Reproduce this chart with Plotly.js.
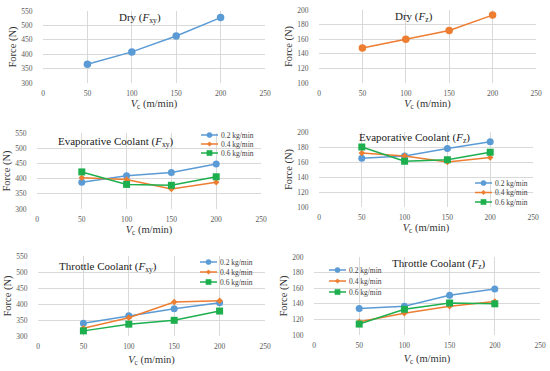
<!DOCTYPE html>
<html>
<head>
<meta charset="utf-8">
<script src="https://cdn.plot.ly/plotly-3.0.1.min.js"></script>
<style>html,body{margin:0;padding:0;background:#fff;}#chart{width:550px;height:371px;}</style>
</head>
<body>
<div id="chart"></div>
<script>
// ---- Data ----
const vc = [50, 100, 150, 200];
const flowLabels = ['0.2 kg/min', '0.4 kg/min', '0.6 kg/min'];

const dryFxy = [365, 408, 463, 527];
const dryFz = [148, 160, 172, 193];

const evapFxy02 = [388, 409, 420, 448];
const evapFxy04 = [403, 397, 366, 388];
const evapFxy06 = [422, 381, 378, 406];

const evapFz02 = [165, 168, 178, 187];
const evapFz04 = [172, 168, 160, 166];
const evapFz06 = [180, 161, 163, 173];

const thrFxy02 = [340, 363, 385, 404];
const thrFxy04 = [324, 357, 406, 410];
const thrFxy06 = [316, 337, 349, 378];

const thrFz02 = [134, 137, 151, 159];
const thrFz04 = [117, 128, 137, 143];
const thrFz06 = [114, 133, 141, 140];

const panelTitles = ['Dry (<i>F</i><sub>xy</sub>)', 'Dry (<i>F</i><sub>z</sub>)',
  'Evaporative Coolant (<i>F</i><sub>xy</sub>)', 'Evaporative Coolant (<i>F</i><sub>z</sub>)',
  'Throttle Coolant (<i>F</i><sub>xy</sub>)', 'Throttle Coolant (<i>F</i><sub>z</sub>)'];
const xTitle = '<i>V</i><sub>c</sub> (m/min)';
const yTitle = 'Force (N)';
const xTicks = [0, 50, 100, 150, 200, 250];
const fxyTicks = [300, 350, 400, 450, 500, 550];
const fzTicks = [100, 120, 140, 160, 180, 200];

// ---- Styling ----
const W = 550, H = 371;
const px = v => v / W;
const py = v => 1 - v / H;
const BLUE = '#5B9BD5', ORANGE = '#ED7D31', GREEN = '#1DAF4E';
const FONT = 'Liberation Serif, Times New Roman, serif';
const seriesStyle = [
  {color: BLUE, symbol: 'circle', size: 7},
  {color: ORANGE, symbol: 'diamond', size: 5},
  {color: GREEN, symbol: 'square', size: 7}
];

const panels = [
  {x: [43, 265], y: [11, 83], ticks: fxyTicks, xstand: 1},
  {x: [319, 536], y: [10, 83], ticks: fzTicks, xstand: 1},
  {x: [37, 261], y: [133, 209], ticks: fxyTicks, xstand: 2},
  {x: [319, 533], y: [132, 207], ticks: fzTicks, xstand: 2},
  {x: [38, 265], y: [256, 336], ticks: fxyTicks, xstand: 5},
  {x: [314, 540], y: [257, 335], ticks: fzTicks, xstand: 5}
];

const panelSeries = [
  [dryFxy], [dryFz],
  [evapFxy02, evapFxy04, evapFxy06],
  [evapFz02, evapFz04, evapFz06],
  [thrFxy02, thrFxy04, thrFxy06],
  [thrFz02, thrFz04, thrFz06]
];

const titlePos = [[140, 18], [414, 17], [116, 142], [414, 138], [108, 267], [439, 264]];
const legendPos = [null, null,
  {x: 201, rows: [135, 144, 153]},
  {x: 475, rows: [183, 192.5, 202]},
  {x: 200, rows: [262, 272, 282]},
  {x: 329, rows: [270, 281, 292]}];

const traces = [];
const layout = {
  width: W, height: H,
  margin: {l: 0, r: 0, t: 0, b: 0},
  paper_bgcolor: '#fff', plot_bgcolor: '#fff',
  showlegend: false,
  font: {family: FONT, color: '#222'},
  annotations: [], shapes: []
};

panels.forEach((p, i) => {
  const n = i + 1;
  const xa = n === 1 ? 'x' : 'x' + n;
  const ya = n === 1 ? 'y' : 'y' + n;
  const xkey = n === 1 ? 'xaxis' : 'xaxis' + n;
  const ykey = n === 1 ? 'yaxis' : 'yaxis' + n;
  layout[xkey] = {
    domain: [px(p.x[0]), px(p.x[1])], anchor: ya,
    range: [0, 250], tickvals: xTicks, ticktext: xTicks.map(String),
    showgrid: true, gridcolor: '#d9d9d9', gridwidth: 1, zeroline: false, showline: false,
    ticks: 'outside', ticklen: 3, tickcolor: 'rgba(0,0,0,0)',
    tickfont: {family: FONT, size: 7.5, color: '#595959'},
    title: {text: xTitle, font: {family: FONT, size: 10.5, color: '#333'}, standoff: p.xstand},
    automargin: false, fixedrange: true
  };
  const yr = [p.ticks[0], p.ticks[p.ticks.length - 1]];
  layout[ykey] = {
    domain: [py(p.y[1]), py(p.y[0])], anchor: xa,
    range: yr, tickvals: p.ticks, ticktext: p.ticks.map(String),
    showgrid: true, gridcolor: '#d9d9d9', gridwidth: 1, zeroline: false, showline: false,
    ticks: 'outside', ticklen: 8, tickcolor: 'rgba(0,0,0,0)',
    tickfont: {family: FONT, size: 7.5, color: '#595959'},
    title: {text: yTitle, font: {family: FONT, size: 10.5, color: '#333'}, standoff: 2},
    automargin: false, fixedrange: true
  };
  const series = panelSeries[i];
  series.forEach((vals, k) => {
    let st = seriesStyle[k];
    if (series.length === 1) st = {color: i === 0 ? BLUE : ORANGE, symbol: 'circle', size: 7.5};
    traces.push({
      x: vc, y: vals, xaxis: xa, yaxis: ya, type: 'scatter', mode: 'lines+markers',
      name: series.length > 1 ? flowLabels[k] : 'Dry',
      line: {color: st.color, width: 1.5},
      marker: {color: st.color, symbol: st.symbol, size: st.size},
      cliponaxis: false
    });
  });
  // panel title
  layout.annotations.push({
    text: panelTitles[i], xref: 'paper', yref: 'paper',
    x: px(titlePos[i][0]), y: py(titlePos[i][1]), xanchor: 'center', yanchor: 'middle',
    showarrow: false, font: {family: FONT, size: 11, color: '#222'}
  });
  // manual compact legend
  const lg = legendPos[i];
  if (lg) {
    flowLabels.forEach((lab, k) => {
      const st = seriesStyle[k];
      const yy = py(lg.rows[k]);
      const xl0 = px(lg.x), xl1 = px(lg.x + 17), xc = px(lg.x + 8.5);
      layout.shapes.push({type: 'line', xref: 'paper', yref: 'paper', x0: xl0, x1: xl1, y0: yy, y1: yy,
        line: {color: st.color, width: 1.5}});
      const r = k === 1 ? 2.2 : 2.6;
      let shp;
      if (k === 0) {
        shp = {type: 'circle', x0: -r, x1: r, y0: -r, y1: r};
      } else if (k === 1) {
        shp = {type: 'path', path: `M0,${-r} L${r},0 L0,${r} L${-r},0 Z`};
      } else {
        shp = {type: 'rect', x0: -r, x1: r, y0: -r, y1: r};
      }
      Object.assign(shp, {xref: 'paper', yref: 'paper', xsizemode: 'pixel', ysizemode: 'pixel',
        xanchor: xc, yanchor: yy, fillcolor: st.color, line: {color: st.color, width: 0.5}});
      layout.shapes.push(shp);
      layout.annotations.push({
        text: lab, xref: 'paper', yref: 'paper', x: px(lg.x + 18), y: yy,
        xanchor: 'left', yanchor: 'middle', showarrow: false,
        font: {family: FONT, size: 7.5, color: '#404040'}
      });
    });
  }
});

Plotly.newPlot('chart', traces, layout, {displayModeBar: false, staticPlot: true});
</script>
</body>
</html>
